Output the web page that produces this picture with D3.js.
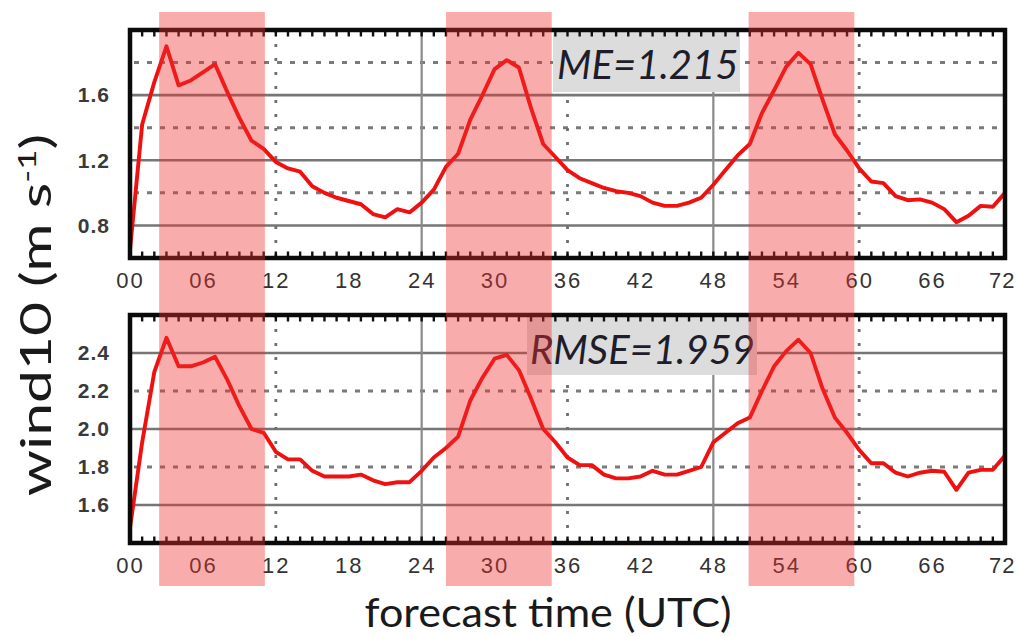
<!DOCTYPE html>
<html><head><meta charset="utf-8">
<script src="https://cdn.jsdelivr.net/npm/d3@7"></script>
<style>
html,body{margin:0;padding:0;background:#fff;}
svg{display:block;}
</style></head>
<body>
<svg id="chart" width="1017" height="637"></svg>
<script>
// ---- data ----
const hours = d3.range(0, 73);
const meValues = [0.65,1.42,1.68,1.90,1.66,1.69,1.74,1.79,1.62,1.46,1.32,1.27,1.19,1.15,1.13,1.04,1.00,0.97,0.95,0.93,0.87,0.85,0.90,0.88,0.94,
  1.02,1.16,1.24,1.45,1.60,1.76,1.815,1.77,1.52,1.30,1.22,1.14,1.09,1.06,1.03,1.01,1.00,0.98,0.94,0.92,0.92,0.94,0.97,
  1.05,1.14,1.23,1.30,1.49,1.63,1.775,1.86,1.79,1.57,1.36,1.26,1.15,1.07,1.06,0.98,0.955,0.96,0.94,0.90,0.82,0.86,0.92,0.915,1.00];
const rmseValues = [1.48,1.93,2.30,2.48,2.33,2.33,2.35,2.38,2.26,2.12,2.00,1.98,1.88,1.84,1.84,1.78,1.75,1.75,1.75,1.76,1.73,1.71,1.72,1.72,1.78,
  1.85,1.90,1.96,2.15,2.27,2.37,2.39,2.31,2.16,2.00,1.93,1.85,1.81,1.81,1.76,1.74,1.74,1.75,1.78,1.76,1.76,1.78,1.80,
  1.93,1.98,2.03,2.06,2.20,2.33,2.41,2.47,2.40,2.21,2.06,1.98,1.89,1.82,1.82,1.77,1.75,1.77,1.78,1.775,1.68,1.77,1.785,1.785,1.86];
const xTicks = [0,6,12,18,24,30,36,42,48,54,60,66,72];
const solidVLines = [24, 48];
const dottedVLines = [12, 36, 60];
const shadeStart = [2.4, 26.0, 50.9];
const shadeEnd = [11.1, 34.7, 59.6];
const meSolidTicks = [0.8, 1.2, 1.6];
const meDashedTicks = [1.0, 1.4, 1.8];
const rmseSolidTicks = [1.6, 2.0, 2.4];
const rmseDashedTicks = [1.8, 2.2];
const meLabel = "ME=1.215";
const rmseLabel = "RMSE=1.959";

// ---- layout ----
const svg = d3.select("#chart");
const X0 = 130, X1 = 1005;
const x = d3.scaleLinear().domain([0, 72]).range([X0, X1]);

const panels = [
  {top: 30, bottom: 258, domain: [0.6, 2.0], values: meValues, solid: meSolidTicks, dashed: meDashedTicks,
   labelTicks: meSolidTicks, label: meLabel, box: [553, 30, 740, 92], textX: 557, textY: 79},
  {top: 315, bottom: 543, domain: [1.4, 2.6], values: rmseValues, solid: rmseSolidTicks, dashed: rmseDashedTicks,
   labelTicks: rmseSolidTicks.concat(rmseDashedTicks), label: rmseLabel, box: [527, 315, 757, 375], textX: 530, textY: 364}
];

panels.forEach(p => {
  const y = d3.scaleLinear().domain(p.domain).range([p.bottom, p.top]);
  const g = svg.append("g");

  // horizontal gridlines
  g.selectAll(".hs").data(p.solid).join("line")
    .attr("x1", X0).attr("x2", X1).attr("y1", d => y(d)).attr("y2", d => y(d))
    .attr("stroke", "#767676").attr("stroke-width", 2.6);
  g.selectAll(".hd").data(p.dashed).join("line")
    .attr("x1", X0 + 4).attr("x2", X1).attr("y1", d => y(d)).attr("y2", d => y(d))
    .attr("stroke", "#7a7a7a").attr("stroke-width", 3).attr("stroke-dasharray", "5,8");
  // vertical gridlines
  g.selectAll(".vs").data(solidVLines).join("line")
    .attr("x1", d => x(d)).attr("x2", d => x(d)).attr("y1", p.top).attr("y2", p.bottom)
    .attr("stroke", "#8a8a8a").attr("stroke-width", 2.2);
  g.selectAll(".vd").data(dottedVLines).join("line")
    .attr("x1", d => x(d)).attr("x2", d => x(d)).attr("y1", p.top).attr("y2", p.bottom)
    .attr("stroke", "#6f6f6f").attr("stroke-width", 2.8).attr("stroke-dasharray", "3,11");

  // stat label box
  g.append("rect").attr("x", p.box[0]).attr("y", p.box[1])
    .attr("width", p.box[2] - p.box[0]).attr("height", p.box[3] - p.box[1])
    .attr("fill", "#dcdcdc");
  g.append("text").attr("x", p.textX).attr("y", p.textY)
    .attr("font-family", "Lato, 'Open Sans', sans-serif").attr("font-style", "italic")
    .attr("font-size", 40).attr("fill", "#1d1d2b")
    .text(p.label);

  // data line
  const line = d3.line().x((d, i) => x(hours[i])).y(d => y(d));
  g.append("path").datum(p.values).attr("d", line)
    .attr("fill", "none").attr("stroke", "#f01010").attr("stroke-width", 3.9)
    .attr("stroke-linejoin", "round");

  // frame ticks (hourly, inward on top & bottom)
  g.selectAll(".tt").data(hours).join("line")
    .attr("x1", d => x(d)).attr("x2", d => x(d)).attr("y1", p.top).attr("y2", p.top + 6.5)
    .attr("stroke", "#111").attr("stroke-width", 2.4);
  g.selectAll(".tb").data(hours).join("line")
    .attr("x1", d => x(d)).attr("x2", d => x(d)).attr("y1", p.bottom).attr("y2", p.bottom - 6.5)
    .attr("stroke", "#111").attr("stroke-width", 2.4);
  // frame
  g.append("rect").attr("x", X0).attr("y", p.top).attr("width", X1 - X0).attr("height", p.bottom - p.top)
    .attr("fill", "none").attr("stroke", "#0a0a0a").attr("stroke-width", 4.5);

  // y tick labels
  const yAxis = d3.axisLeft(y).tickValues(p.labelTicks).tickFormat(d3.format(".1f")).tickSize(0).tickPadding(20);
  const ya = g.append("g").attr("transform", `translate(${X0},0)`).call(yAxis);
  ya.select(".domain").remove();
  ya.selectAll("text").attr("font-family", "'Liberation Sans', Arial, sans-serif")
    .attr("font-weight", "bold").attr("font-size", 21).attr("fill", "#3a3a3a")
    .attr("letter-spacing", "1px");

  // x tick labels
  const xAxis = d3.axisBottom(x).tickValues(xTicks).tickFormat(d3.format("02d")).tickSize(0).tickPadding(14);
  const xa = g.append("g").attr("transform", `translate(0,${p.bottom})`).call(xAxis);
  xa.select(".domain").remove();
  xa.selectAll("text").attr("font-family", "'Liberation Sans', Arial, sans-serif")
    .attr("font-size", 22).attr("fill", "#333").attr("letter-spacing", "2px");
  // keep the last label inside the page
  xa.selectAll("text").filter(d => d === 72)
    .attr("text-anchor", "end").attr("letter-spacing", "1px").attr("dx", 10);
});

// axis titles
svg.append("text")
  .attr("transform", "translate(51,315) rotate(-90) scale(1.4,1)")
  .attr("text-anchor", "middle")
  .attr("font-family", "Lato, 'Open Sans', sans-serif").attr("font-size", 42).attr("fill", "#1a1a1a")
  .call(t => {
    t.append("tspan").text("wind10 (m s");
    t.append("tspan").attr("dy", -15).attr("font-size", 25).text("-1");
    t.append("tspan").attr("dy", 15).text(")");
  });
svg.append("text")
  .attr("x", 548).attr("y", 627).attr("text-anchor", "middle")
  .attr("font-family", "Lato, 'Open Sans', sans-serif").attr("font-size", 41).attr("fill", "#1a1a1a")
  .attr("textLength", 367).attr("lengthAdjust", "spacingAndGlyphs")
  .text("forecast time (UTC)");

// shading bands (on top)
svg.selectAll(".shade").data(shadeStart).join("rect")
  .attr("x", d => x(d)).attr("y", 12)
  .attr("width", (d, i) => x(shadeEnd[i]) - x(d)).attr("height", 574)
  .attr("fill", "#f03030").attr("fill-opacity", 0.4);
</script>
</body></html>
